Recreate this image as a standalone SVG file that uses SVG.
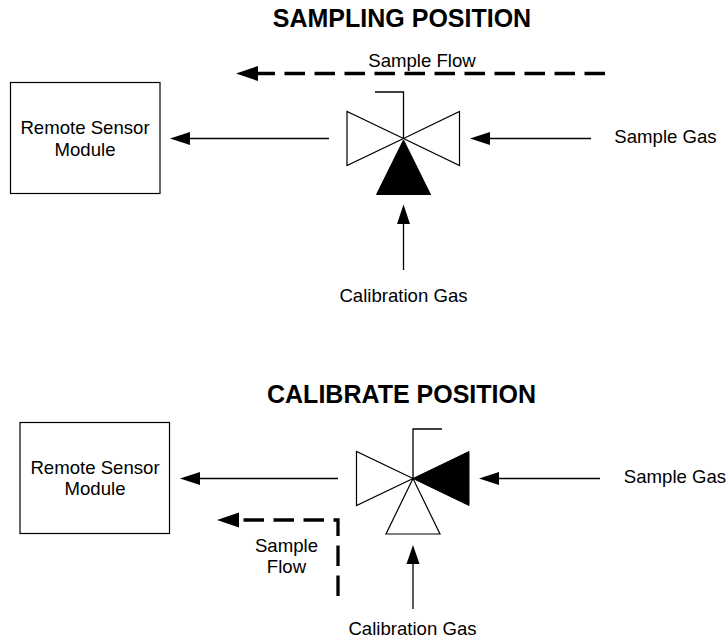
<svg xmlns="http://www.w3.org/2000/svg" width="728" height="639" viewBox="0 0 728 639">
<style>
text{font-family:"Liberation Sans",Arial,sans-serif;font-size:18.6px;fill:#000;text-anchor:middle}
.t{font-size:25px;font-weight:bold}
.l{fill:none;stroke:#000;stroke-width:1.3}
.o{fill:#fff;stroke:#000;stroke-width:1.2}
.f{fill:#000;stroke:#000;stroke-width:1}
.d{fill:none;stroke:#000;stroke-width:3.300;stroke-dasharray:20.500 9.500}
.h{fill:#000}
</style>
<rect width="728" height="639" fill="#fff"/>
<g id="title-sampling"><text class="t" x="402" y="27">SAMPLING POSITION</text></g>
<g id="title-calibrate"><text class="t" x="401.500" y="403">CALIBRATE POSITION</text></g>
<g id="sensor-1"><rect class="o" x="10.500" y="82.500" width="149.500" height="111"/><text x="85" y="134">Remote Sensor</text><text x="85" y="156">Module</text></g>
<g id="sensor-2"><rect class="o" x="20" y="422.500" width="149.500" height="111"/><text x="95" y="473.500">Remote Sensor</text><text x="95" y="495">Module</text></g>
<g id="valve-1">
<path class="l" d="M403.500 138.500V92H375"/>
<path class="o" d="M403.500 138.500L347 111.500V165.500Z"/>
<path class="o" d="M403.500 138.500L459.500 111.500V165.500Z"/>
<path class="f" d="M403.500 140L376.500 194.500H430.500Z"/>
</g>
<g id="valve-2">
<path class="l" d="M413 478.500V429H442"/>
<path class="o" d="M413 478.500L356.500 451.500V505.500Z"/>
<path class="f" d="M413 478.500L469 451.500V505.500Z"/>
<path class="o" d="M413 478.500L386 534H440Z"/>
</g>
<g id="label-sample-gas-1"><text x="665.500" y="143">Sample Gas</text></g>
<g id="label-cal-gas-1"><text x="403.500" y="302">Calibration Gas</text></g>
<g id="label-flow-1"><text x="422" y="67">Sample Flow</text></g>
<g id="label-sample-gas-2"><text x="675" y="483">Sample Gas</text></g>
<g id="label-cal-gas-2"><text x="412.500" y="635">Calibration Gas</text></g>
<g id="label-flow-2"><text x="286.500" y="551.500">Sample</text><text x="286.500" y="573">Flow</text></g>
<g id="connectors">
<path class="l" d="M329 138.500H188"/><path class="h" d="M170 138.500L190 132V145Z"/>
<path class="l" d="M591 138.500H488"/><path class="h" d="M470 138.500L490 132V145Z"/>
<path class="l" d="M403.500 270V222"/><path class="h" d="M403.500 204.500L397 224H410Z"/>
<path class="d" d="M605 73.500H256"/><path class="h" d="M236 73.500L258 66V81Z"/>
<path class="l" d="M338 478.500H198"/><path class="h" d="M180 478.500L200 472V485Z"/>
<path class="l" d="M600 478.500H497"/><path class="h" d="M479 478.500L499 472V485Z"/>
<path class="l" d="M413 609V562"/><path class="h" d="M413 545L406.500 564H419.500Z"/>
<path class="d" d="M338 596V520H237"/><path class="h" d="M217 520L239 512.500V527.500Z"/>
</g>
</svg>
